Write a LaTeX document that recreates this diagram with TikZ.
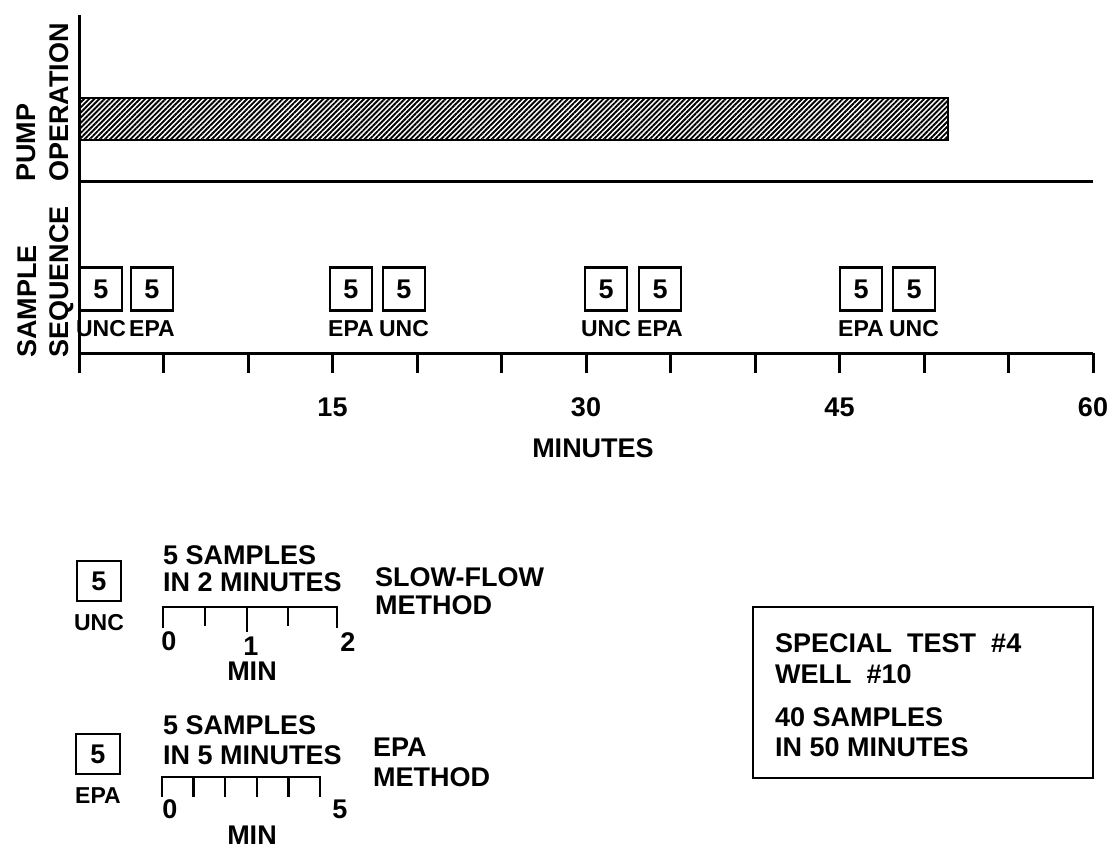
\documentclass[tikz,border=0pt]{standalone}
\usepackage{fontspec}
\setmainfont{Liberation Sans}
\usetikzlibrary{positioning,patterns.meta}

\begin{document}
\begin{tikzpicture}[x=1pt, y=-1pt,
    every node/.style={font=\fontsize{27}{29}\selectfont\bfseries, inner sep=0pt, text depth=0pt},
    samplebox/.style={draw, line width=2.4pt, minimum width=42pt, minimum height=43pt},
    keybox/.style={samplebox, minimum width=44pt, minimum height=40pt},
    tag/.style={font=\fontsize{23}{25}\selectfont\bfseries},
    axis/.style={line width=3pt},
    scaleline/.style={line width=2.4pt},
    sidelabel/.style={rotate=90, anchor=base west}]
  \useasboundingbox (0,0) rectangle (1113,850);
  % axes
  \coordinate (top) at (79,15);
  \coordinate (t0) at (79,353);
  \coordinate (t60) at (1093,353);
  \draw[axis] (top) -- (79,373);
  \draw[axis] (79,182) -- (1093,182);
  \draw[axis] (t0) -- (t60);
  \foreach \m in {5,10,...,60}
    \draw[axis] (79+\m*16.9,353) -- ++(0,20);
  \foreach \m in {15,30,45,60}
    \node (lab\m) at (79+\m*16.9,407) {\m};
  \node (minutes) at (593,448) {MINUTES};
  % pump bar
  \draw[line width=2pt, pattern={Lines[angle=45,distance=3.6pt,line width=1.9pt]}]
       (79,98) rectangle (948,140);
  % side labels
  \node[sidelabel] (pump) at (35,182) {PUMP};
  \node[sidelabel] (oper) at (68,182) {OPERATION};
  \node[sidelabel] (sample) at (36,358) {SAMPLE};
  \node[sidelabel] (seq) at (68,358) {SEQUENCE};
  % sample sequence
  \foreach \x/\t [count=\i] in {101/UNC,152/EPA,351/EPA,404/UNC,606/UNC,660/EPA,861/EPA,914/UNC} {
    \node[samplebox] (s\i) at (\x,289) {5};
    \node[tag, below=9pt of s\i] (t\i) {\t};
  }
  % key: slow-flow
  \node[keybox] (k1) at (99,581) {5};
  \node[tag, below=12pt of k1] (k1t) {UNC};
  \node[anchor=west] (k1a) at (163,555) {5 SAMPLES};
  \node[anchor=west] (k1b) at (163,582) {IN 2 MINUTES};
  \draw[scaleline] (163,628) -- (163,607) -- (337,607) -- (337,628);
  \foreach \x in {205,288}
    \draw[scaleline] (\x,607) -- (\x,626);
  \draw[scaleline] (247,607) -- (247,632);
  \node (k1z) at (169,641) {0};
  \node (k1o) at (251,646) {1};
  \node (k1w) at (348,642) {2};
  \node (k1m) at (252,671) {MIN};
  \node[anchor=west] (k1c) at (375,577) {SLOW-FLOW};
  \node[anchor=west] (k1d) at (375,605) {METHOD};
  % key: epa
  \node[keybox] (k2) at (98,754) {5};
  \node[tag, below=12pt of k2] (k2t) {EPA};
  \node[anchor=west] (k2a) at (163,725) {5 SAMPLES};
  \node[anchor=west] (k2b) at (163,755) {IN 5 MINUTES};
  \draw[scaleline] (162,797) -- (162,777) -- (320,777) -- (320,797);
  \foreach \i in {1,...,4}
    \draw[scaleline] (162+\i*31.6,777) -- ++(0,20);
  \node (k2z) at (170,809) {0};
  \node (k2f) at (340,809) {5};
  \node (k2m) at (252,835) {MIN};
  \node[anchor=west] (k2c) at (373,747) {EPA};
  \node[anchor=west] (k2d) at (373,777) {METHOD};
  % test info
  \draw[scaleline] (753,607) rectangle (1093,778);
  \node[anchor=west] (info1) at (775,643) {SPECIAL\ \ TEST\ \ \#4};
  \node[anchor=west] (info2) at (775,674) {WELL\ \ \#10};
  \node[anchor=west] (info3) at (775,717) {40 SAMPLES};
  \node[anchor=west] (info4) at (775,747) {IN 50 MINUTES};
\end{tikzpicture}
\end{document}
